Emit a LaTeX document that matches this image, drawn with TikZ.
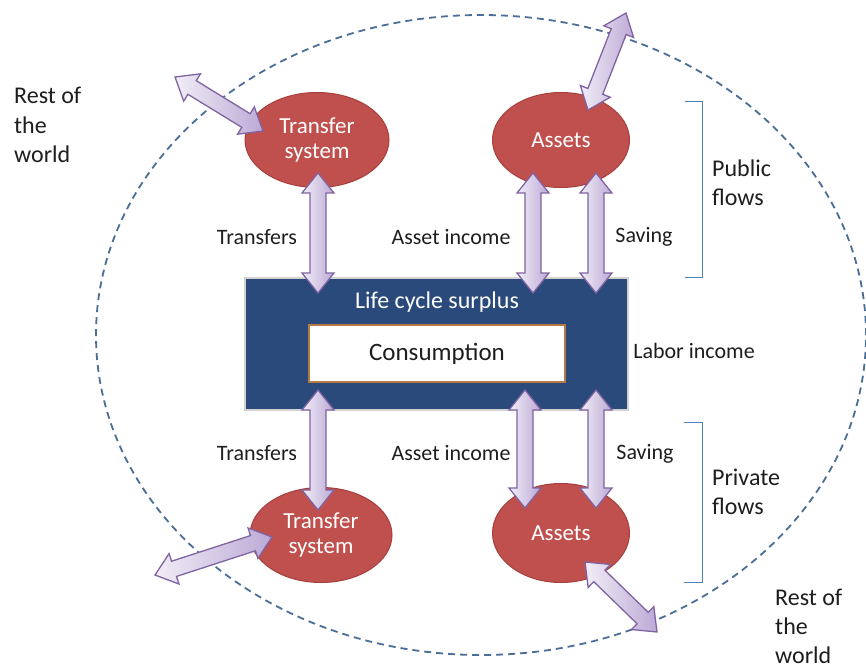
\documentclass[tikz,border=0pt]{standalone}
\usepackage{fontspec}
\setmainfont{Carlito}
\usetikzlibrary{shapes.geometric,calc}
\definecolor{redE}{HTML}{C0504D}
\definecolor{redB}{HTML}{A5403E}
\definecolor{blueBox}{HTML}{2A4A7B}
\definecolor{arrB}{HTML}{8064A2}
\definecolor{arrL}{HTML}{F1EDF6}
\definecolor{arrD}{HTML}{BCA9D6}
\definecolor{dashC}{HTML}{4A6E96}
\definecolor{brk}{HTML}{4F81BD}
\definecolor{consB}{HTML}{B87A45}
\definecolor{txt}{HTML}{1E1E1E}
\newcommand\blockarrow[2]{%
  \path[barrow] let \p1=(#1), \p2=(#2), \n1={atan2(\y2-\y1,\x2-\x1)}, \n2={veclen(\x2-\x1,\y2-\y1)} in
    [shift={(\p1)}, rotate=\n1]
    (0pt,0pt) -- (20pt,16pt) -- (20pt,8pt) -- ({\n2-20pt},8pt) -- ({\n2-20pt},16pt) -- (\n2,0pt)
    -- ({\n2-20pt},-16pt) -- ({\n2-20pt},-8pt) -- (20pt,-8pt) -- (20pt,-16pt) -- cycle;}
\begin{document}
\begin{tikzpicture}[x=1pt,y=-1pt,
  redell/.style={ellipse, draw=redB, line width=1pt, fill=redE, text=white, align=center,
     font=\fontsize{23}{25}\selectfont, inner sep=0pt},
  barrow/.style={draw=arrB, line width=1.3pt, left color=arrL, right color=arrD, line join=miter},
  lbl/.style={text=txt, font=\fontsize{22}{26}\selectfont, inner sep=0pt},
  big/.style={text=txt, font=\fontsize{24}{29.5}\selectfont, inner sep=0pt, align=left},
  bracket/.style={draw=brk, line width=1pt}]
\useasboundingbox (0,0) rectangle (866,668);
\fill[white] (0,0) rectangle (866,668);
% world ellipse
\node[ellipse, draw=dashC, dash pattern=on 7pt off 5pt, line width=1.8pt,
  minimum width=770pt, minimum height=640pt, inner sep=0pt] (world) at (481,335) {};
% central box
\node[draw=gray!35, line width=1.5pt, fill=blueBox, minimum width=383pt, minimum height=132pt,
  inner sep=0pt] (lcs) at (436.5,344) {};
\node[text=white, font=\fontsize{24}{26}\selectfont, inner sep=0pt] (lcst) at (437,302) {Life cycle surplus};
\node[draw=consB, line width=1.5pt, fill=white, minimum width=256pt, minimum height=57pt,
  inner sep=0pt, text=txt, font=\fontsize{25}{27}\selectfont] (cons) at (437,353.5) {Consumption};
% ellipses
\node[redell, minimum width=144pt, minimum height=95pt] (ts1) at (317,140) {Transfer\\system};
\node[redell, minimum width=137pt, minimum height=95pt] (as1) at (561,140) {Assets};
\node[redell, minimum width=142pt, minimum height=95pt] (ts2) at (321,535) {Transfer\\system};
\node[redell, minimum width=137pt, minimum height=99pt] (as2) at (561,533) {Assets};
% arrow end points
\coordinate (a1s) at (318,173); \coordinate (a1e) at (318,293);
\coordinate (a2s) at (533,173); \coordinate (a2e) at (533,293);
\coordinate (a3s) at (596,173); \coordinate (a3e) at (596,293);
\coordinate (b1s) at (318,390); \coordinate (b1e) at (318,510);
\coordinate (b2s) at (525,390); \coordinate (b2e) at (525,508);
\coordinate (b3s) at (596,390); \coordinate (b3e) at (596,508);
\coordinate (d1s) at (263,131); \coordinate (d1e) at (175,77);
\coordinate (d2s) at (588,110); \coordinate (d2e) at (626,13);
\coordinate (d3s) at (272,537); \coordinate (d3e) at (155,575);
\coordinate (d4s) at (585,562); \coordinate (d4e) at (657,632);
\blockarrow{a1s}{a1e}
\blockarrow{a2s}{a2e}
\blockarrow{a3s}{a3e}
\blockarrow{b1s}{b1e}
\blockarrow{b2s}{b2e}
\blockarrow{b3s}{b3e}
\blockarrow{d1s}{d1e}
\blockarrow{d2s}{d2e}
\blockarrow{d3s}{d3e}
\blockarrow{d4s}{d4e}
% labels
\node[lbl] (l1) at (257,237) {Transfers};
\node[lbl] (l2) at (451,237) {Asset income};
\node[lbl] (l3) at (644,237) {Saving};
\node[lbl] (l4) at (257,453) {Transfers};
\node[lbl] (l5) at (451,453) {Asset income};
\node[lbl] (l6) at (645,454) {Saving};
\node[lbl] (l7) at (694,351) {Labor income};
\node[big, anchor=west] (pub) at (712,183) {Public\\flows};
\node[big, anchor=west] (pri) at (712,492) {Private\\flows};
\node[big, anchor=west] (rw1) at (14,125) {Rest of\\the\\world};
\node[big, anchor=west, font=\fontsize{24}{29}\selectfont] (rw2) at (775,626) {Rest of\\the\\world};
% brackets
\draw[bracket] (685,102) -- (702,102) -- (702,277) -- (685,277);
\draw[bracket] (684,422) -- (702,422) -- (702,582) -- (684,582);
\end{tikzpicture}
\end{document}
